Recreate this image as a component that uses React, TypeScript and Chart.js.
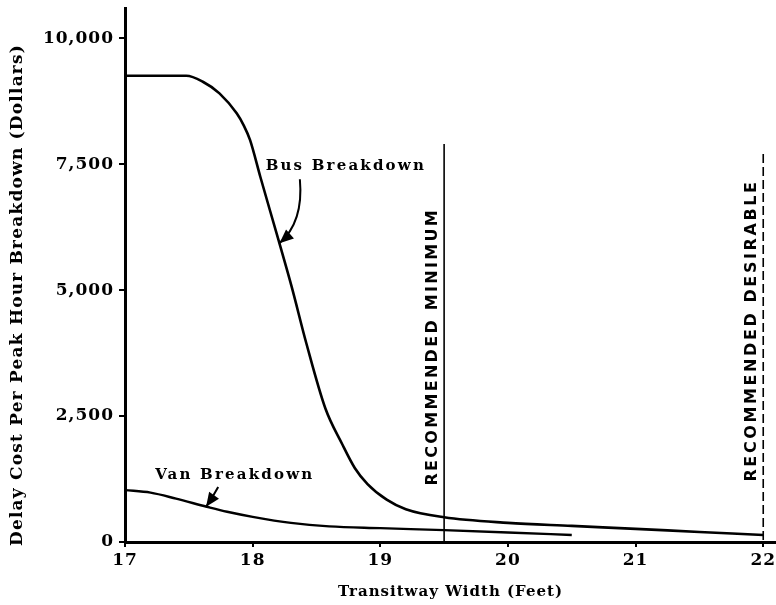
import React, { useEffect, useRef } from "react";
import { Chart, registerables } from "chart.js";

Chart.register(...registerables);

// ---- Data ----
const busWidth = [17, 17.3, 17.48, 17.61, 17.74, 17.875, 17.93, 17.98, 18.06, 18.2, 18.306, 18.42, 18.57, 18.7, 18.8, 18.9, 19.05, 19.2, 19.5, 20, 20.5, 21, 21.5, 22];
const busCost = [9255, 9255, 9255, 9136, 8906, 8509, 8270, 7977, 7250, 6015, 5063, 3950, 2650, 1950, 1470, 1150, 840, 650, 490, 380, 320, 260, 200, 140];
const vanWidth = [17, 17.2, 17.4, 17.64, 17.8, 18.0, 18.3, 18.6, 19.0, 19.5, 20, 20.5];
const vanCost = [1030, 980, 860, 700, 600, 500, 380, 310, 275, 235, 190, 140];

const xTickValues = [17, 18, 19, 20, 21, 22];
const yTickValues = [0, 2500, 5000, 7500, 10000];

const recommendedWidths = [19.5, 22];
const recommendedLabels = ["RECOMMENDED MINIMUM", "RECOMMENDED DESIRABLE"];
const recommendedTops = [7900, 7700];

const seriesLabels = ["Bus Breakdown", "Van Breakdown"];
const xTitle = "Transitway Width (Feet)";
const yTitle = "Delay Cost Per Peak Hour Breakdown (Dollars)";

const SERIF = "'DejaVu Serif', serif";
const SANS = "'DejaVu Sans', sans-serif";

function drawArrow(ctx: CanvasRenderingContext2D, sx: number, sy: number, cx: number, cy: number, ex: number, ey: number) {
  ctx.beginPath();
  ctx.moveTo(sx, sy);
  ctx.quadraticCurveTo(cx, cy, ex, ey);
  ctx.stroke();
  const ang = Math.atan2(ey - cy, ex - cx);
  const len = 14;
  const hw = 6;
  const bx = ex - Math.cos(ang) * len;
  const by = ey - Math.sin(ang) * len;
  ctx.beginPath();
  ctx.moveTo(ex, ey);
  ctx.lineTo(bx + Math.sin(ang) * hw, by - Math.cos(ang) * hw);
  ctx.lineTo(bx - Math.sin(ang) * hw, by + Math.cos(ang) * hw);
  ctx.closePath();
  ctx.fill();
}

const spacingPlugin = {
  id: "spacing",
  beforeDraw(chart: any) {
    (chart.ctx as any).letterSpacing = "1px";
  },
  afterDraw(chart: any) {
    const ctx: CanvasRenderingContext2D = chart.ctx;
    // y-axis title
    ctx.save();
    ctx.fillStyle = "#000";
    ctx.font = `bold 17px ${SERIF}`;
    (ctx as any).letterSpacing = "1.2px";
    ctx.translate(18, 295);
    ctx.rotate(-Math.PI / 2);
    ctx.textAlign = "center";
    ctx.textBaseline = "middle";
    ctx.fillText(yTitle, 0, 0);
    ctx.restore();
    (ctx as any).letterSpacing = "0px";
  },
};

const annotationPlugin = {
  id: "annotations",
  afterDatasetsDraw(chart: any) {
    const ctx: CanvasRenderingContext2D = chart.ctx;
    const xs = chart.scales.x;
    const ys = chart.scales.y;
    const bottom = chart.chartArea.bottom;
    ctx.save();
    ctx.fillStyle = "#000";
    ctx.strokeStyle = "#000";

    // recommended width lines + rotated labels
    recommendedWidths.forEach((w, i) => {
      const px = xs.getPixelForValue(w);
      const top = ys.getPixelForValue(recommendedTops[i]);
      ctx.lineWidth = 1.6;
      ctx.setLineDash(i === 0 ? [] : [9, 4]);
      ctx.beginPath();
      ctx.moveTo(px, top);
      ctx.lineTo(px, bottom);
      ctx.stroke();
      ctx.setLineDash([]);
      const textBottom = ys.getPixelForValue(i === 0 ? 1120 : 1200);
      ctx.save();
      ctx.translate(px - 11, textBottom);
      ctx.rotate(-Math.PI / 2);
      ctx.font = `bold 16px ${SANS}`;
      (ctx as any).letterSpacing = i === 0 ? "2.3px" : "2.6px";
      ctx.textAlign = "left";
      ctx.textBaseline = "middle";
      ctx.fillText(recommendedLabels[i], 0, 0);
      ctx.restore();
    });

    // series labels
    ctx.font = `bold 15px ${SERIF}`;
    (ctx as any).letterSpacing = "2.2px";
    ctx.textAlign = "center";
    ctx.textBaseline = "middle";
    ctx.fillText(seriesLabels[0], xs.getPixelForValue(18.73), ys.getPixelForValue(7460));
    ctx.fillText(seriesLabels[1], xs.getPixelForValue(17.86), ys.getPixelForValue(1320));
    (ctx as any).letterSpacing = "0px";

    // arrows
    ctx.lineWidth = 2;
    drawArrow(
      ctx,
      xs.getPixelForValue(18.37), ys.getPixelForValue(7200),
      xs.getPixelForValue(18.4), ys.getPixelForValue(6350),
      xs.getPixelForValue(18.21), ys.getPixelForValue(5930)
    );
    drawArrow(
      ctx,
      xs.getPixelForValue(17.73), ys.getPixelForValue(1090),
      xs.getPixelForValue(17.69), ys.getPixelForValue(900),
      xs.getPixelForValue(17.635), ys.getPixelForValue(700)
    );
    ctx.restore();
  },
};

export default function App() {
  const ref = useRef<HTMLCanvasElement | null>(null);

  useEffect(() => {
    document.body.style.margin = "0";
    const canvas = ref.current;
    if (!canvas) return;
    const tickFont = { family: SERIF, weight: "bold" as const, size: 17 };
    const chart = new Chart(canvas, {
      type: "line",
      data: {
        datasets: [
          {
            label: seriesLabels[0],
            data: busWidth.map((w, i) => ({ x: w, y: busCost[i] })),
            borderColor: "#000",
            borderWidth: 2.6,
            pointRadius: 0,
            cubicInterpolationMode: "monotone",
            fill: false,
          },
          {
            label: seriesLabels[1],
            data: vanWidth.map((w, i) => ({ x: w, y: vanCost[i] })),
            borderColor: "#000",
            borderWidth: 2.4,
            pointRadius: 0,
            cubicInterpolationMode: "monotone",
            fill: false,
          },
        ],
      },
      options: {
        animation: false,
        responsive: false,
        devicePixelRatio: 1,
        layout: { padding: { top: 8, right: 0, left: 0, bottom: 0 } },
        plugins: { legend: { display: false }, tooltip: { enabled: false } },
        scales: {
          x: {
            type: "linear",
            min: 17,
            max: 22.1,
            afterBuildTicks: (s: any) => {
              s.ticks = xTickValues.map((v) => ({ value: v }));
            },
            afterFit: (s: any) => {
              s.height = 63;
              s.paddingLeft = 0;
              s.paddingRight = 0;
            },
            border: { color: "#000", width: 3 },
            grid: { drawOnChartArea: false, drawTicks: true, tickLength: 5, color: "#000", lineWidth: 2 },
            ticks: { font: tickFont, color: "#000", padding: 3, maxRotation: 0, autoSkip: false },
            title: {
              display: true,
              text: xTitle,
              color: "#000",
              font: { family: SERIF, weight: "bold", size: 15 },
              padding: { top: 0, bottom: 4 },
            },
          },
          y: {
            type: "linear",
            min: 0,
            max: 10600,
            afterBuildTicks: (s: any) => {
              s.ticks = yTickValues.map((v) => ({ value: v }));
            },
            afterFit: (s: any) => {
              s.width = 125;
              s.paddingTop = 0;
              s.paddingBottom = 0;
            },
            border: { color: "#000", width: 3 },
            grid: { drawOnChartArea: false, drawTicks: true, tickLength: 6, color: "#000", lineWidth: 2 },
            ticks: {
              font: tickFont,
              color: "#000",
              padding: 5,
              autoSkip: false,
              callback: (v: any) => Number(v).toLocaleString("en-US"),
            },
            title: { display: false, text: yTitle },
          },
        },
      },
      plugins: [spacingPlugin, annotationPlugin],
    });
    return () => chart.destroy();
  }, []);

  return (
    <div style={{ position: "absolute", left: 0, top: 0, width: 776, height: 605, background: "#fff" }}>
      <canvas ref={ref} width={776} height={605} style={{ display: "block" }} />
    </div>
  );
}
